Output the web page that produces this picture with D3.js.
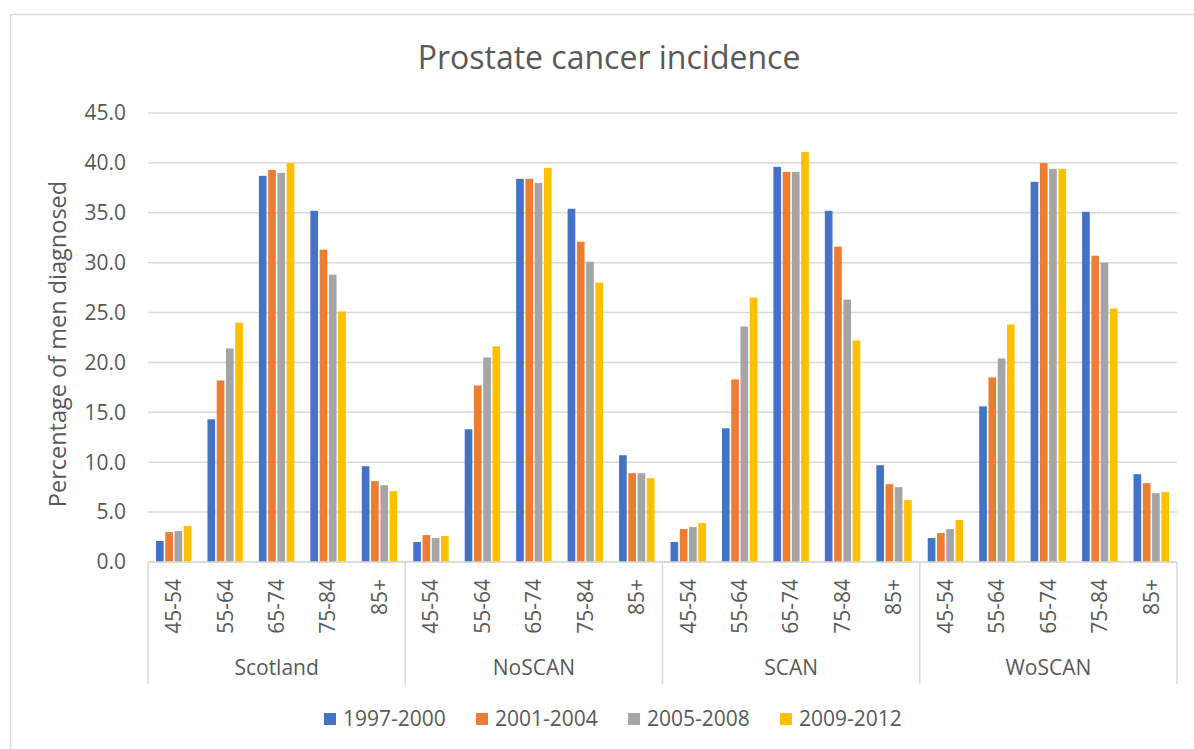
<!DOCTYPE html>
<html>
<head>
<meta charset="utf-8">
<script src="https://cdn.jsdelivr.net/npm/d3@7"></script>
<style>
  body { margin: 0; background: #fff; }
  text { font-family: "Open Sans", sans-serif; fill: #595959; }
</style>
</head>
<body>
<script>
    var w = 1194;
    var h = 749;

    // Data
    var regions = ["Scotland", "NoSCAN", "SCAN", "WoSCAN"];
    var ageGroups = ["45-54", "55-64", "65-74", "75-84", "85+"];
    var periods = ["1997-2000", "2001-2004", "2005-2008", "2009-2012"];
    var colors = ["#4472C4", "#ED7D31", "#A5A5A5", "#FFC000"];
    var yTicks = [0, 5, 10, 15, 20, 25, 30, 35, 40, 45];

    // values per period, in region order then age group order
    var p1997 = [2.1, 14.3, 38.7, 35.2, 9.6,   2.0, 13.3, 38.4, 35.4, 10.7,   2.0, 13.4, 39.6, 35.2, 9.7,   2.4, 15.6, 38.1, 35.1, 8.8];
    var p2001 = [3.0, 18.2, 39.3, 31.3, 8.1,   2.7, 17.7, 38.4, 32.1, 8.9,    3.3, 18.3, 39.1, 31.6, 7.8,   2.9, 18.5, 40.0, 30.7, 7.9];
    var p2005 = [3.1, 21.4, 39.0, 28.8, 7.7,   2.4, 20.5, 38.0, 30.1, 8.9,    3.5, 23.6, 39.1, 26.3, 7.5,   3.3, 20.4, 39.4, 30.0, 6.9];
    var p2009 = [3.6, 24.0, 40.0, 25.1, 7.1,   2.6, 21.6, 39.5, 28.0, 8.4,    3.9, 26.5, 41.1, 22.2, 6.2,   4.2, 23.8, 39.4, 25.4, 7.0];
    var series = [p1997, p2001, p2005, p2009];

    var margin = {left: 148, right: 17, top: 113, bottom: 187};
    var plotW = w - margin.left - margin.right;
    var plotH = h - margin.top - margin.bottom;

    var svg = d3.select("body")
                .append("svg")
                .attr("width", w)
                .attr("height", h);

    // chart border (left + top only visible)
    svg.append("rect")
       .attr("x", 10.5).attr("y", 14.5)
       .attr("width", 1200).attr("height", 800)
       .attr("fill", "none")
       .attr("stroke", "#d9d9d9")
       .attr("stroke-width", 1.5);

    // categories: region|age
    var cats = [];
    regions.forEach(function(r) {
        ageGroups.forEach(function(a) { cats.push(r + "|" + a); });
    });

    var x0 = d3.scaleBand().domain(cats).range([margin.left, margin.left + plotW]).paddingInner(0.28).paddingOuter(0.14);
    var xCat = d3.scaleBand().domain(cats).range([margin.left, margin.left + plotW]);
    var x1 = d3.scaleBand().domain(d3.range(periods.length)).range([0, x0.bandwidth()]);
    var xReg = d3.scaleBand().domain(regions).range([margin.left, margin.left + plotW]);

    var y = d3.scaleLinear().domain([0, 45]).range([margin.top + plotH, margin.top]);

    // gridlines
    svg.append("g")
       .selectAll("line")
       .data(yTicks)
       .enter()
       .append("line")
       .attr("x1", margin.left)
       .attr("x2", margin.left + plotW)
       .attr("y1", d => y(d))
       .attr("y2", d => y(d))
       .attr("stroke", "#d9d9d9")
       .attr("stroke-width", 1.5);

    // y tick labels
    svg.append("g")
       .selectAll("text")
       .data(yTicks)
       .enter()
       .append("text")
       .attr("x", 126)
       .attr("y", d => y(d))
       .attr("dy", "0.35em")
       .attr("text-anchor", "end")
       .style("font-size", "21px")
       .text(d => d.toFixed(1));

    // bars
    var flat = [];
    series.forEach(function(s, si) {
        s.forEach(function(v, ci) { flat.push({s: si, c: cats[ci], v: v}); });
    });
    svg.append("g")
       .selectAll("rect")
       .data(flat)
       .enter()
       .append("rect")
       .attr("x", d => x0(d.c) + x1(d.s) + 0.8)
       .attr("width", x1.bandwidth() - 1.6)
       .attr("y", d => y(d.v))
       .attr("height", d => y(0) - y(d.v))
       .attr("fill", d => colors[d.s]);

    // category axis lines
    var axisG = svg.append("g").attr("stroke", "#d9d9d9").attr("stroke-width", 1.5);
    axisG.append("line")
         .attr("x1", margin.left).attr("x2", margin.left + plotW)
         .attr("y1", y(0)).attr("y2", y(0));
    var bounds = regions.map(r => xReg(r)).concat([margin.left + plotW]);
    axisG.selectAll(".sep")
         .data(bounds)
         .enter()
         .append("line")
         .attr("x1", d => d).attr("x2", d => d)
         .attr("y1", y(0)).attr("y2", 684);

    // age labels
    svg.append("g")
       .selectAll("text")
       .data(cats)
       .enter()
       .append("text")
       .attr("transform", d => "translate(" + (xCat(d) + xCat.bandwidth() / 2) + ",579) rotate(-90)")
       .attr("dy", "0.35em")
       .attr("text-anchor", "end")
       .style("font-size", "21px")
       .text(d => d.split("|")[1]);

    // region labels
    svg.append("g")
       .selectAll("text")
       .data(regions)
       .enter()
       .append("text")
       .attr("x", d => xReg(d) + xReg.bandwidth() / 2)
       .attr("y", 668)
       .attr("dy", "0.35em")
       .attr("text-anchor", "middle")
       .style("font-size", "21px")
       .text(d => d);

    // title
    svg.append("text")
       .attr("x", 609)
       .attr("y", 69)
       .attr("text-anchor", "middle")
       .style("font-size", "32px")
       .text("Prostate cancer incidence");

    // y axis title
    svg.append("text")
       .attr("transform", "translate(58,344) rotate(-90)")
       .attr("dy", "0.35em")
       .attr("text-anchor", "middle")
       .style("font-size", "23.5px")
       .text("Percentage of men diagnosed");

    // legend
    var legend = svg.append("g");
    var legX = [324, 476, 628, 780];
    var items = legend.selectAll("g")
       .data(periods)
       .enter()
       .append("g")
       .attr("transform", (d, i) => "translate(" + legX[i] + ",713)");
    items.append("rect")
       .attr("width", 12).attr("height", 12)
       .attr("fill", (d, i) => colors[i]);
    items.append("text")
       .attr("x", 19)
       .attr("y", 6)
       .attr("dy", "0.35em")
       .style("font-size", "21px")
       .text(d => d);
</script>
</body>
</html>
